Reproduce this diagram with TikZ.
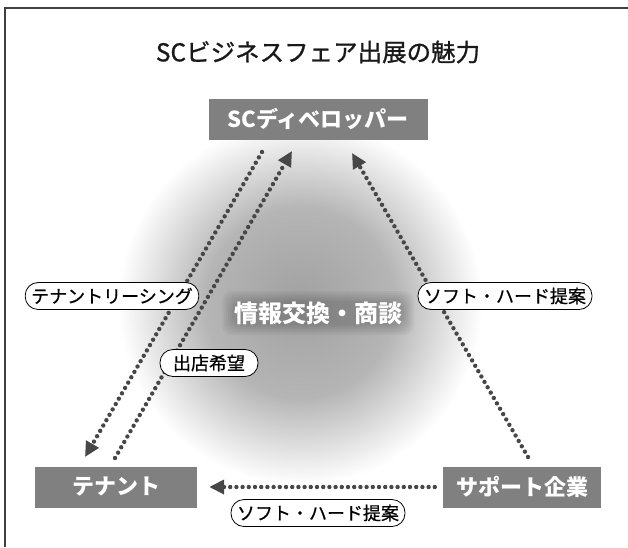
\documentclass[tikz,border=0pt]{standalone}
\usepackage{fontspec}
\setmainfont{Noto Sans CJK JP}
\newfontfamily\titlefont[FakeBold=1]{Noto Sans CJK JP}
\newfontfamily\tagfont[FakeBold=0.6]{Noto Sans CJK JP}
\usepackage{tikz}
\usetikzlibrary{arrows.meta,positioning,calc}
\pgfdeclareradialshading{glowshade}{\pgfpoint{0bp}{0bp}}{color(0bp)=(gray!74); color(13bp)=(gray!58); color(25bp)=(white); color(50bp)=(white)}

\begin{document}
\begin{tikzpicture}[x=1pt,y=-1pt,
    box/.style={fill=gray,text=white,font=\fontsize{22}{22}\selectfont\bfseries,minimum height=41pt,inner sep=0pt},
    tag/.style={draw=black,line width=0.8pt,fill=white,rounded corners=13pt,minimum height=27pt,minimum width=173pt,inner xsep=6pt,inner ysep=0pt,font=\tagfont\fontsize{18}{18}\selectfont},
    dots/.style={draw=black!72,line width=4.4pt,line cap=round,dash pattern=on 0pt off 6.2pt,-{Triangle[length=15pt,width=14pt]}}]
    \useasboundingbox (0,0) rectangle (628,547);
    \draw[black!75,line width=1.6pt] (628,8) -- (5,8) -- (5,547); % frame
    \shade[shading=glowshade] (300,303) circle (182pt); % soft backdrop

    \node[text=black!90] (title) at (318,52) {\titlefont\fontsize{24.5}{24.5}\selectfont SCビジネスフェア出展の魅力};
    \node[box,minimum width=219pt] (dev) at (318,119) {SCディベロッパー};
    \node[box,minimum width=162pt] (ten) at (116,487) {テナント};
    \node[box,minimum width=158pt] (sup) at (522,487) {サポート企業};

    \coordinate (devL) at (262,152);
    \coordinate (devM) at (292,151);
    \coordinate (devR) at (352,153);
    \coordinate (tenL) at (85,457);
    \coordinate (tenR) at (115,458);
    \coordinate (supN) at (528,457);

    \draw[dots] (devL) -- (tenL); % leasing
    \draw[dots] (tenR) -- (devM); % wish to open
    \draw[dots] (supN) -- (devR); % offer to developer
    \draw[dots,shorten <=8pt,shorten >=12pt] (sup.west) -- (ten.east); % offer to tenant

    \node[tag] (lease) at (112,296) {テナントリーシング};
    \node[tag,minimum width=98pt] (hope) at (209,363) {出店希望};
    \node[tag] (offer) at (505,296) {ソフト・ハード提案};
    \node[tag] (offer2) at (318,513) {ソフト・ハード提案};

    % dark halo behind the centre text
    \foreach \s in {0,2,...,10}
        \fill[black,fill opacity=0.035,rounded corners=10pt] (318-86-\s,313-12-\s) rectangle (318+86+\s,313+12+\s);
    \node[text=white,font=\fontsize{24}{24}\selectfont\bfseries] (talk) at (318,313) {情報交換・商談};
\end{tikzpicture}
\end{document}
